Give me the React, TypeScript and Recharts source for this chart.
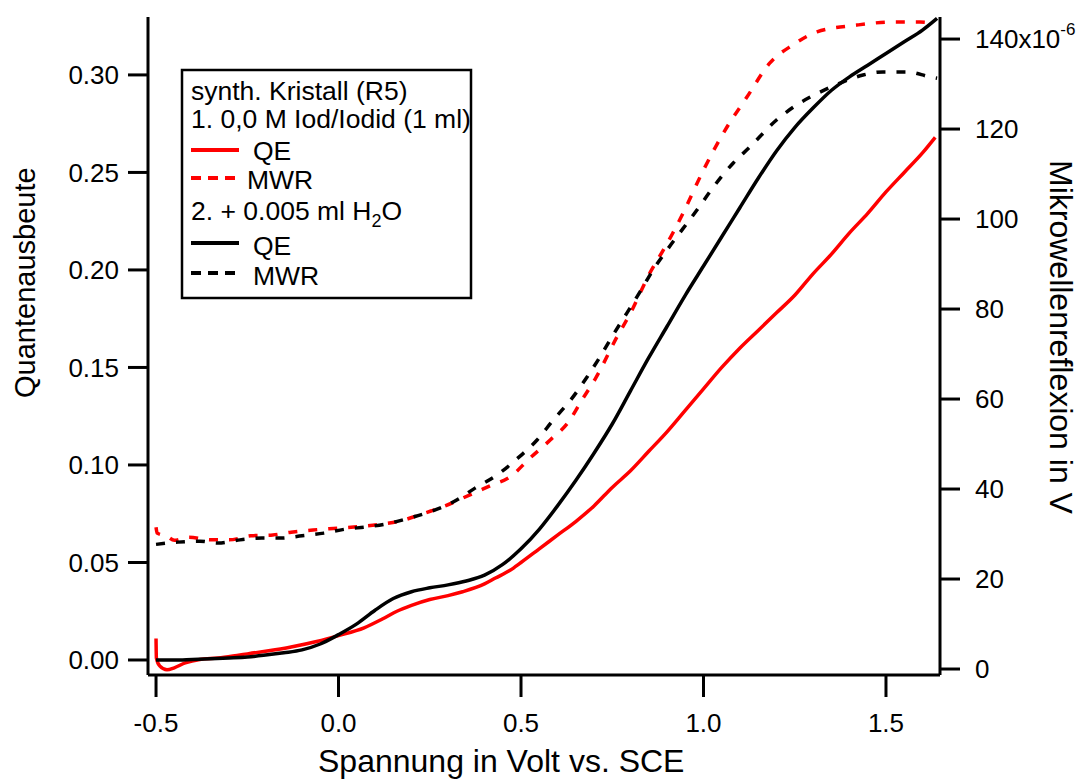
import { LineChart, Line, XAxis, YAxis } from 'recharts';

// 1. 0,0 M Iod/Iodid – quantum efficiency (left axis)
const redQeV = [-0.5, -0.499, -0.49, -0.47, -0.45, -0.42, -0.38, -0.33, -0.27, -0.2, -0.13, -0.06, 0, 0.07, 0.12, 0.16, 0.2, 0.25, 0.3, 0.34, 0.4, 0.43, 0.47, 0.5, 0.55, 0.6, 0.65, 0.7, 0.75, 0.8, 0.85, 0.9, 0.95, 1.0, 1.05, 1.1, 1.15, 1.2, 1.25, 1.3, 1.35, 1.4, 1.45, 1.5, 1.55, 1.6, 1.635];
const redQe = [0.011, 0.001, -0.003, -0.005, -0.004, -0.0015, 0.0003, 0.001, 0.0026, 0.0045, 0.0067, 0.0095, 0.0125, 0.0165, 0.021, 0.0250, 0.028, 0.031, 0.033, 0.035, 0.039, 0.042, 0.046, 0.05, 0.057, 0.064, 0.071, 0.079, 0.0885, 0.097, 0.107, 0.117, 0.128, 0.139, 0.15, 0.16, 0.169, 0.178, 0.187, 0.198, 0.208, 0.219, 0.229, 0.24, 0.25, 0.26, 0.268];

// 1. microwave reflection (right axis, µV)
const redMwrV = [-0.5, -0.497, -0.47, -0.45, -0.41, -0.35, -0.3, -0.24, -0.18, -0.13, -0.07, 0, 0.05, 0.12, 0.17, 0.22, 0.29, 0.36, 0.415, 0.47, 0.525, 0.58, 0.63, 0.667, 0.705, 0.763, 0.8, 0.853, 0.889, 0.916, 0.944, 1.0, 1.064, 1.119, 1.182, 1.245, 1.311, 1.42, 1.52, 1.593, 1.635];
const redMwr = [31.5, 30.2, 29.5, 28.6, 29.3, 28.7, 28.7, 29.6, 29.8, 30.4, 30.9, 31.3, 31.6, 32.2, 32.9, 34.2, 36.2, 38.7, 40.7, 42.7, 46.9, 50.9, 54.9, 59.8, 64.7, 73.8, 79.1, 88.0, 93.0, 96.9, 101.3, 110.9, 120.4, 127.1, 134.7, 138.7, 141.6, 143.1, 143.8, 143.8, 143.5];

// 2. + 0.005 ml H2O – quantum efficiency (left axis)
const blackQeV = [-0.5, -0.45, -0.4, -0.35, -0.3, -0.25, -0.2, -0.15, -0.1, -0.05, 0, 0.05, 0.1, 0.15, 0.2, 0.25, 0.3, 0.35, 0.4, 0.45, 0.5, 0.55, 0.6, 0.65, 0.7, 0.75, 0.8, 0.85, 0.9, 0.95, 1.0, 1.05, 1.1, 1.15, 1.2, 1.25, 1.3, 1.35, 1.4, 1.45, 1.5, 1.55, 1.6, 1.64];
const blackQe = [0.0, 0.0, 0.0003, 0.0006, 0.001, 0.0015, 0.0025, 0.0037, 0.0052, 0.0082, 0.013, 0.0185, 0.0255, 0.0315, 0.035, 0.037, 0.0385, 0.0405, 0.0435, 0.049, 0.057, 0.067, 0.079, 0.092, 0.106, 0.121, 0.138, 0.155, 0.171, 0.187, 0.202, 0.217, 0.232, 0.247, 0.261, 0.273, 0.283, 0.292, 0.299, 0.305, 0.311, 0.317, 0.323, 0.329];

// 2. microwave reflection (right axis, µV)
const blackMwrV = [-0.5, -0.44, -0.38, -0.33, -0.27, -0.21, -0.16, -0.1, -0.04, 0.02, 0.08, 0.14, 0.196, 0.25, 0.314, 0.374, 0.434, 0.489, 0.544, 0.588, 0.64, 0.681, 0.716, 0.752, 0.79, 0.826, 0.862, 0.9, 0.982, 1.026, 1.081, 1.127, 1.2, 1.264, 1.319, 1.374, 1.437, 1.492, 1.558, 1.62, 1.64];
const blackMwr = [27.7, 28.2, 28.4, 28.0, 28.7, 29.1, 29.1, 29.6, 30.2, 31.1, 31.6, 32.4, 33.6, 34.9, 37.1, 40.2, 43.1, 46.7, 50.9, 55.3, 60.2, 64.9, 69.3, 74.2, 79.1, 83.8, 88.7, 93.1, 102, 107, 112.4, 116, 122, 125.8, 128.2, 130.2, 132, 132.7, 132.7, 131.6, 131.3];

const xTicks = [-0.5, 0, 0.5, 1.0, 1.5];
const leftTicks = [0, 0.05, 0.1, 0.15, 0.2, 0.25, 0.3];
const rightTicks = [0, 20, 40, 60, 80, 100, 120, 140];

const FONT = '"Liberation Sans", Arial, sans-serif';
const RED = '#ff0000';

const rows = (xs: number[], ys: number[]) => xs.map((v, i) => ({ v, y: ys[i] }));

function RightTick({ x, y, payload }: any) {
  const v = payload.value;
  return (
    <text x={x} y={y} dy="0.355em" fontSize={26} fill="#000" textAnchor="start" fontFamily={FONT}>
      {v === 140 ? (
        <>
          140x10
          <tspan dy={-13} fontSize={17}>-6</tspan>
        </>
      ) : (
        String(v)
      )}
    </text>
  );
}

export default function App() {
  const axisStroke = { stroke: '#000', strokeWidth: 3 };
  return (
    <div style={{ position: 'absolute', left: 0, top: 0, width: 1081, height: 780, background: '#fff', fontFamily: FONT }}>
      <LineChart width={1081} height={780} margin={{ top: 17, right: 0, left: 0, bottom: 0 }}>
        <XAxis
          type="number"
          dataKey="v"
          domain={[-0.522, 1.648]}
          allowDataOverflow
          ticks={xTicks}
          tickFormatter={(v: number) => v.toFixed(1)}
          height={105}
          tickSize={22}
          tickMargin={17}
          axisLine={axisStroke}
          tickLine={axisStroke}
          tick={{ fill: '#000', fontSize: 26, fontFamily: FONT }}
        />
        <YAxis
          yAxisId="left"
          type="number"
          domain={[-0.0077, 0.3297]}
          allowDataOverflow
          ticks={leftTicks}
          tickFormatter={(v: number) => v.toFixed(2)}
          width={148}
          tickSize={20}
          tickMargin={9}
          axisLine={axisStroke}
          tickLine={axisStroke}
          tick={{ fill: '#000', fontSize: 26, fontFamily: FONT }}
        />
        <YAxis
          yAxisId="right"
          orientation="right"
          type="number"
          domain={[-1.33, 144.9]}
          allowDataOverflow
          ticks={rightTicks}
          width={141}
          tickSize={20}
          tickMargin={15}
          axisLine={axisStroke}
          tickLine={axisStroke}
          tick={<RightTick />}
        />
        <Line yAxisId="left" data={rows(redQeV, redQe)} dataKey="y" type="monotoneX" stroke={RED} strokeWidth={3.5} dot={false} isAnimationActive={false} />
        <Line yAxisId="right" data={rows(redMwrV, redMwr)} dataKey="y" type="monotoneX" stroke={RED} strokeWidth={3.5} strokeDasharray="9 11" dot={false} isAnimationActive={false} />
        <Line yAxisId="left" data={rows(blackQeV, blackQe)} dataKey="y" type="monotoneX" stroke="#000" strokeWidth={3.5} dot={false} isAnimationActive={false} />
        <Line yAxisId="right" data={rows(blackMwrV, blackMwr)} dataKey="y" type="monotoneX" stroke="#000" strokeWidth={3.5} strokeDasharray="9 11" dot={false} isAnimationActive={false} />
      </LineChart>

      {/* axis titles and legend box */}
      <svg width={1081} height={780} style={{ position: 'absolute', left: 0, top: 0, pointerEvents: 'none' }}>
        <text x={35} y={398} transform="rotate(-90 35 398)" fontSize={29} fill="#000" fontFamily={FONT}>Quantenausbeute</text>
        <text x={1050} y={160} transform="rotate(90 1050 160)" fontSize={32} fill="#000" fontFamily={FONT}>Mikrowellenreflexion in V</text>
        <text x={318} y={772} fontSize={32} fill="#000" fontFamily={FONT}>Spannung in Volt vs. SCE</text>

        <rect x={182} y={70} width={289} height={228} fill="#fff" stroke="#000" strokeWidth={2.5} />
        <g fontSize={26.5} fill="#000" fontFamily={FONT}>
          <text x={191} y={100}>synth. Kristall (R5)</text>
          <text x={191} y={128}>1. 0,0 M Iod/Iodid (1 ml)</text>
          <line x1={191} x2={239} y1={150} y2={150} stroke={RED} strokeWidth={4} />
          <text x={253} y={160}>QE</text>
          <line x1={191} x2={239} y1={178} y2={178} stroke={RED} strokeWidth={4} strokeDasharray="10 7" />
          <text x={247} y={189}>MWR</text>
          <text x={191} y={220}>
            2. + 0.005 ml H<tspan dy={7} fontSize={18}>2</tspan><tspan dy={-7}>O</tspan>
          </text>
          <line x1={191} x2={239} y1={243} y2={243} stroke="#000" strokeWidth={4} />
          <text x={253} y={255}>QE</text>
          <line x1={191} x2={239} y1={273} y2={273} stroke="#000" strokeWidth={4} strokeDasharray="10 7" />
          <text x={253} y={285}>MWR</text>
        </g>
      </svg>
    </div>
  );
}
